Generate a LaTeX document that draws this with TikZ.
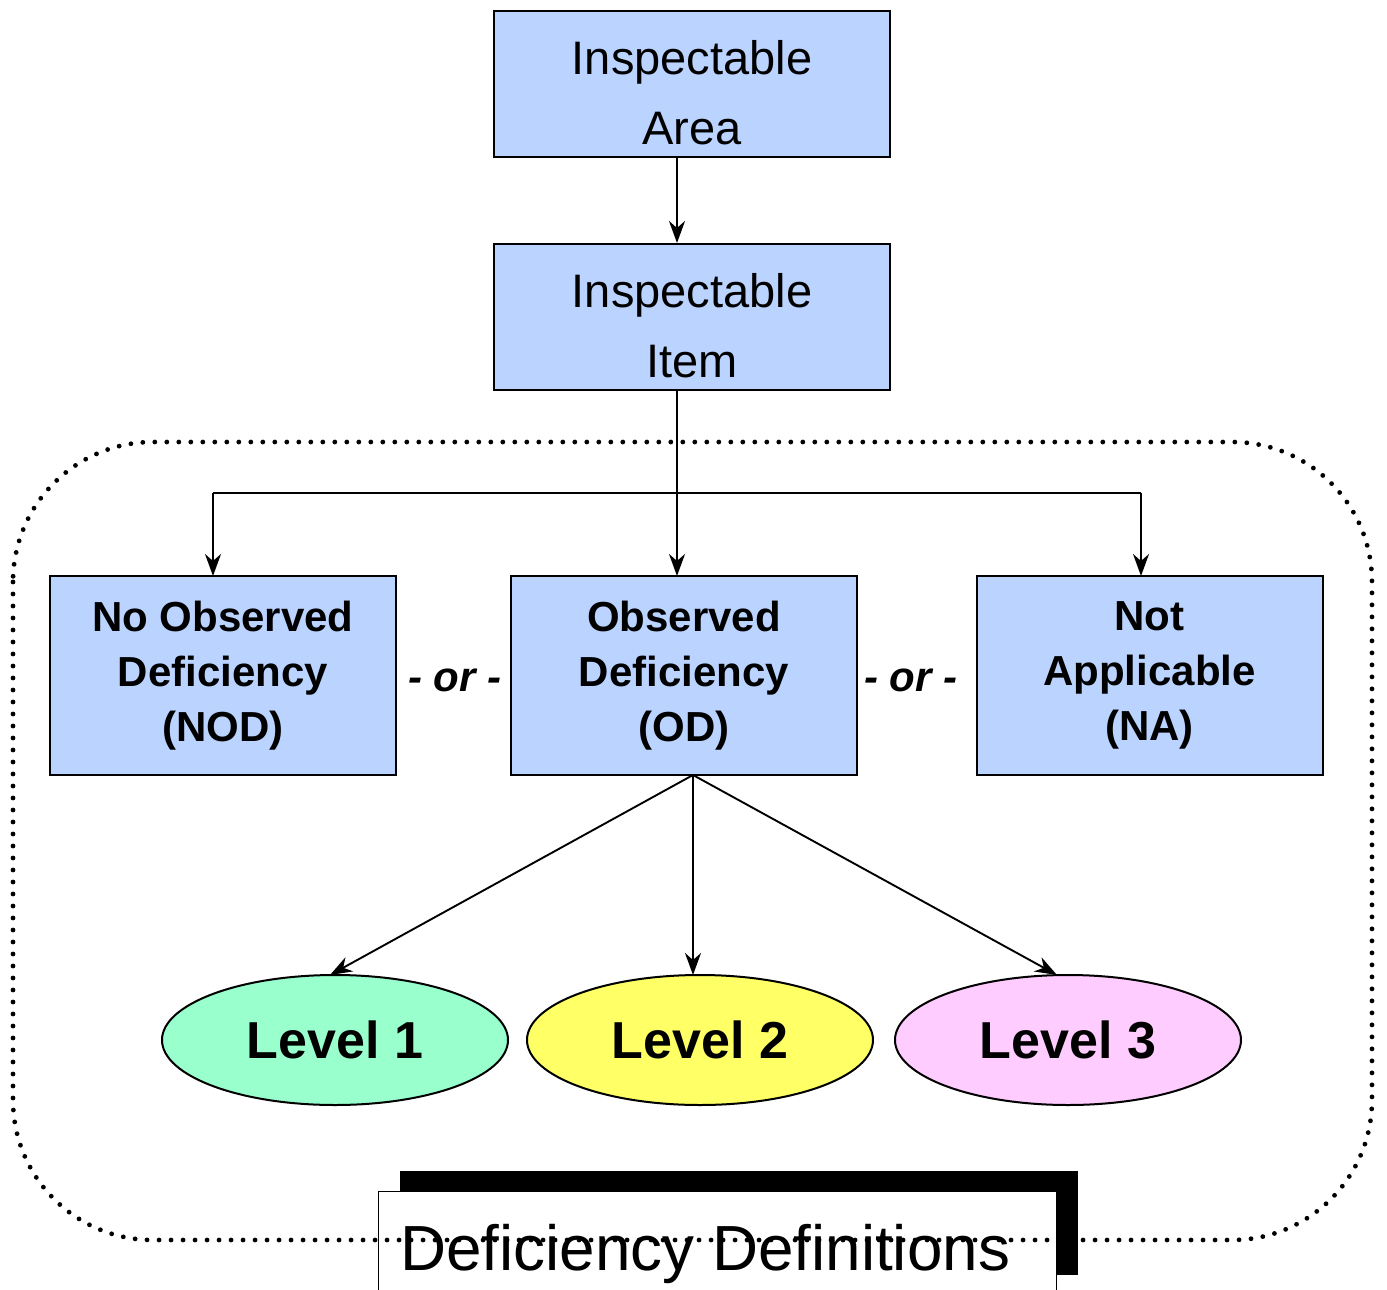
\documentclass[tikz,border=0pt]{standalone}
\usepackage{fontspec}
\setmainfont{Liberation Sans}
\usetikzlibrary{arrows.meta,shapes.geometric}
\definecolor{boxblue}{RGB}{187,211,255}
\definecolor{lvlone}{RGB}{153,255,204}
\definecolor{lvltwo}{RGB}{255,255,102}
\definecolor{lvlthree}{RGB}{255,204,255}
\begin{document}
\begin{tikzpicture}[x=1pt,y=-1pt,
  topbox/.style={draw=black,line width=2pt,fill=boxblue,minimum width=396pt,minimum height=146pt,inner sep=0pt,align=center,font=\fontsize{47}{70}\selectfont},
  midbox/.style={draw=black,line width=2pt,fill=boxblue,minimum width=346pt,minimum height=199pt,inner sep=0pt,align=center,font=\fontsize{42}{55}\selectfont\bfseries},
  lvl/.style={draw=black,line width=2pt,ellipse,minimum width=346pt,minimum height=130pt,inner sep=0pt,font=\fontsize{52}{60}\selectfont\bfseries},
  ortext/.style={font=\fontsize{42}{48}\selectfont\bfseries\itshape},
  conn/.style={line width=1.9pt,-{Stealth[length=22pt,width=16pt,inset=7pt]}},
  plain/.style={line width=1.9pt}]
\useasboundingbox (0,0) rectangle (1387,1290);
\node[topbox] (area) at (692,84) {\rule{0pt}{52pt}Inspectable\\Area};
\node[topbox] (item) at (692,316.5) {\rule{0pt}{52pt}Inspectable\\Item};
\node[midbox] (nod) at (223,675.5) {No Observed\\Deficiency\\(NOD)};
\node[midbox] (od) at (684,675.5) {Observed\\Deficiency\\(OD)};
\node[midbox] (na) at (1149.5,675.5) {Not\\Applicable\\(NA)};
\node[ortext] (or1) at (455,680) {- or -};
\node[ortext] (or2) at (911,680) {- or -};
\node[lvl,fill=lvlone] (l1) at (335,1040) {Level 1};
\node[lvl,fill=lvltwo] (l2) at (700,1040) {Level 2};
\node[lvl,fill=lvlthree] (l3) at (1068,1040) {Level 3};
% connectors
\coordinate (areab) at (677,157);
\coordinate (itemt) at (677,243);
\draw[conn] (areab) -- (itemt);
\coordinate (itemb) at (677,390);
\coordinate (odt) at (677,576);
\coordinate (brl) at (213,493);
\coordinate (brr) at (1141,493);
\coordinate (nodt) at (213,576);
\coordinate (nat) at (1141,576);
\draw[conn] (itemb) -- (odt);
\draw[plain] (brl) -- (brr);
\draw[conn] (brl) -- (nodt);
\draw[conn] (brr) -- (nat);
\coordinate (odb) at (693,775);
\coordinate (l1t) at (330,975);
\coordinate (l2t) at (693,975);
\coordinate (l3t) at (1057,975);
\draw[conn] (odb) -- (l1t);
\draw[conn] (odb) -- (l2t);
\draw[conn] (odb) -- (l3t);
% title box
\fill[black] (400,1171) rectangle (1078,1275);
\node[draw=black,line width=1pt,fill=white,anchor=north west,minimum width=678pt,minimum height=110pt,inner sep=0pt] (titlebox) at (378,1191) {};
\node[anchor=base west,inner sep=0pt,font=\fontsize{63.8}{70}\selectfont] (title) at (400,1270) {Deficiency Definitions};
% dotted region
\draw[line width=4.8pt,line cap=round,dash pattern=on 0pt off 12pt,rounded corners=140pt] (13,442) rectangle (1372,1240);
\end{tikzpicture}
\end{document}
